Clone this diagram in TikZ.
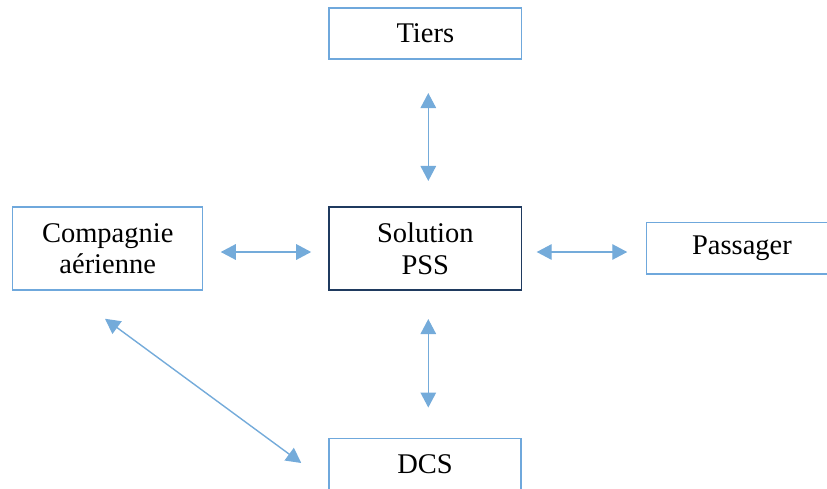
\documentclass[tikz,border=0pt]{standalone}
\usepackage{fontspec}
\setmainfont{Liberation Serif}
\usetikzlibrary{arrows.meta}
\definecolor{lightblue}{HTML}{6FA8DC}
\definecolor{arrblue}{HTML}{74ABDA}
\definecolor{navy}{HTML}{1F3A5F}
\tikzset{
  boxlight/.style={draw=lightblue, line width=1.5pt, rectangle, inner sep=0pt,
    font=\fontsize{28.5}{31.5}\selectfont, align=center, text=black},
  boxdark/.style={boxlight, draw=navy},
  arr/.style={draw=arrblue, line width=1.4pt,
    {Triangle[length=15pt,width=15.5pt]}-{Triangle[length=15pt,width=15.5pt]}}
}
\begin{document}
\begin{tikzpicture}[x=1pt,y=-1pt]
\useasboundingbox (0,0) rectangle (827,488);
\node[boxlight, minimum width=192.7pt, minimum height=51pt] (tiers) at (425.3,33.5) {Tiers};
\node[boxdark, minimum width=192.7pt, minimum height=83pt] (sol) at (425.3,248.5) {Solution\\PSS};
\node[boxlight, minimum width=190pt, minimum height=83pt] (comp) at (107.7,248.5) {Compagnie\\a\'erienne};
\node[boxlight, minimum width=190.6pt, minimum height=51.3pt] (pass) at (742,248.3) {Passager};
\node[boxlight, minimum width=192pt, minimum height=51pt] (dcs) at (425,463.8) {DCS};
\draw[arr] ([xshift=3pt,yshift=-33.3pt]tiers.south) -- ([xshift=3pt,yshift=25.3pt]sol.north);
\draw[arr] ([xshift=3pt,yshift=-28.3pt]sol.south) -- ([xshift=3.3pt,yshift=30pt]dcs.north);
\draw[arr] ([xshift=17.3pt,yshift=-3.5pt]comp.east) -- ([xshift=-17pt,yshift=-3.5pt]sol.west);
\draw[arr] ([xshift=14.3pt,yshift=-3.5pt]sol.east) -- ([xshift=-18.7pt,yshift=-3.7pt]pass.west);
\draw[arr] ([xshift=-2.7pt,yshift=-28pt]comp.south) -- ([xshift=-27pt,yshift=0.8pt]dcs.west);
\end{tikzpicture}
\end{document}
